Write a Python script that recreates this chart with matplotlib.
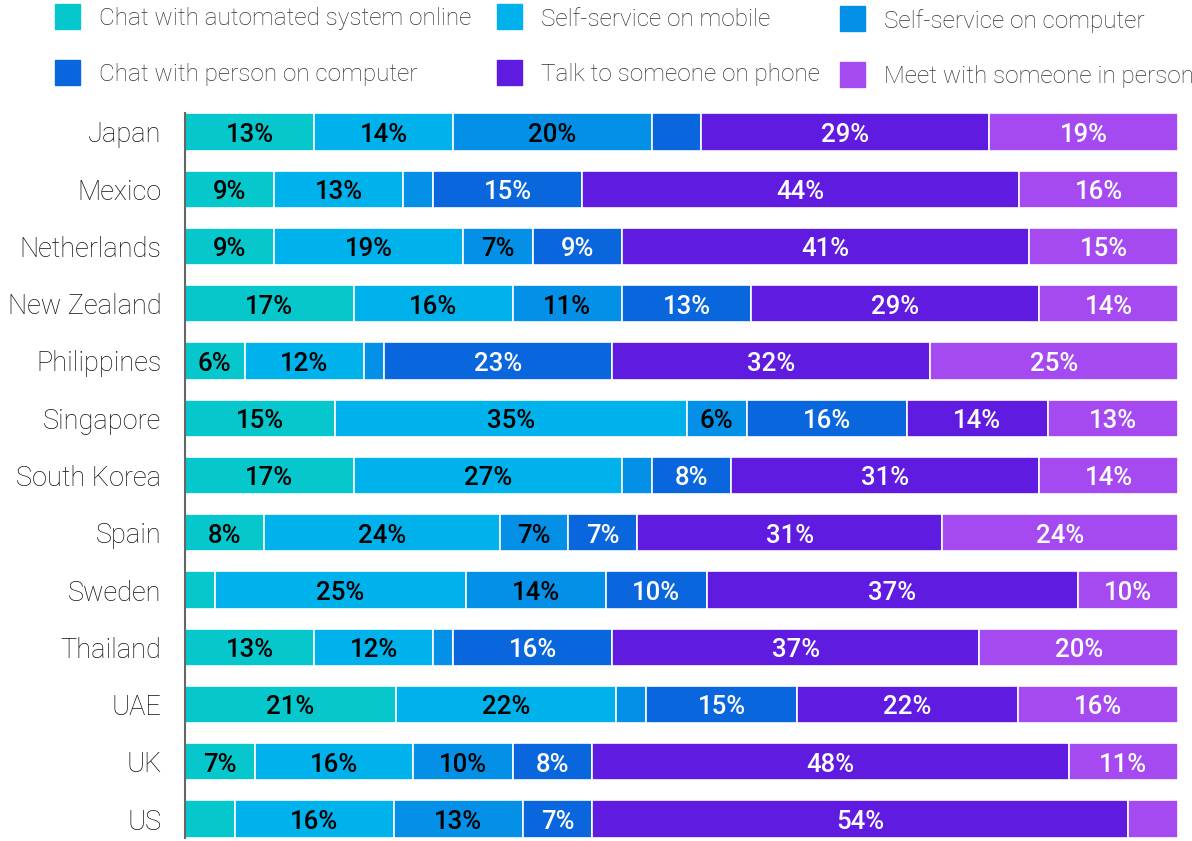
import matplotlib.pyplot as plt
import numpy as np
from matplotlib.patches import Rectangle

plt.rcParams['font.family'] = ['Roboto', 'DejaVu Sans']

countries = ['Japan', 'Mexico', 'Netherlands', 'New Zealand', 'Philippines', 'Singapore',
             'South Korea', 'Spain', 'Sweden', 'Thailand', 'UAE', 'UK', 'US']
categories = ['Chat with automated system online', 'Self-service on mobile',
              'Self-service on computer', 'Chat with person on computer',
              'Talk to someone on phone', 'Meet with someone in person']

chat_auto   = [13, 9, 9, 17, 6, 15, 17, 8, 3, 13, 21, 7, 5]
self_mobile = [14, 13, 19, 16, 12, 35, 27, 24, 25, 12, 22, 16, 16]
self_comp   = [20, 3, 7, 11, 2, 6, 3, 7, 14, 2, 3, 10, 13]
chat_person = [5, 15, 9, 13, 23, 16, 8, 7, 10, 16, 15, 8, 7]
phone       = [29, 44, 41, 29, 32, 14, 31, 31, 37, 37, 22, 48, 54]
in_person   = [19, 16, 15, 14, 25, 13, 14, 24, 10, 20, 16, 11, 5]

colors = ['#06c8cc', '#00b2ec', '#0390e6', '#0966dc', '#601be0', '#a44af0']
text_colors = ['black', 'black', 'black', 'white', 'white', 'white']

data = np.array([chat_auto, self_mobile, self_comp, chat_person, phone, in_person], dtype=float)
shares = data / data.sum(axis=0) * 100  # 100% stacked

fig = plt.figure(figsize=(11.92, 8.41), dpi=100)
ax = fig.add_axes([185 / 1192, 3 / 841, 993 / 1192, 725 / 841])

y = np.arange(len(countries))
left = np.zeros(len(countries))
for i, cat in enumerate(categories):
    bars = ax.barh(y, shares[i], left=left, height=0.65, color=colors[i],
                   edgecolor='white', linewidth=1.2)
    for j, b in enumerate(bars):
        if data[i, j] > 5:
            ax.text(left[j] + shares[i, j] / 2, y[j] + 0.05, '%d%%' % data[i, j],
                    ha='center', va='center', fontsize=18.5, fontweight='medium',
                    color=text_colors[i])
    left += shares[i]

ax.set_xlim(0, 100)
ax.set_ylim(len(countries) - 1 + 0.33, -0.33)
ax.set_yticks(y)
ax.set_yticklabels(countries, fontsize=19.5, fontweight='light', color='#111111')
ax.tick_params(axis='y', length=0, pad=17)
ax.set_xticks([])
for s in ['top', 'right', 'bottom']:
    ax.spines[s].set_visible(False)
ax.spines['left'].set_color('#666666')
ax.spines['left'].set_linewidth(1.5)

# legend, drawn by hand in 3 columns x 2 rows
leg_x = [55, 497, 840]
leg_y = [17, 73]
for k, cat in enumerate(categories):
    r, c = k // 3, k % 3
    px, py = leg_x[c], leg_y[r] + (2 if c == 2 else 0)
    fig.patches.append(Rectangle((px / 1192, 1 - (py + 12) / 841), 25 / 1192, 25 / 841,
                                 transform=fig.transFigure, color=colors[k]))
    fig.text((px + 44) / 1192, 1 - (py + 2) / 841, cat, ha='left', va='center',
             fontsize=17.5, fontweight='light', color='#333333')

fig.savefig('out.png', dpi=100)
